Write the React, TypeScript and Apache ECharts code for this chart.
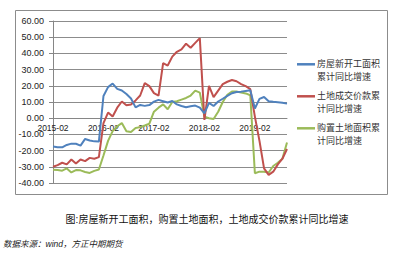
import React, { useEffect, useRef } from "react";
import * as echarts from "echarts";

const categories = [
  "2015-02", "2015-03", "2015-04", "2015-05", "2015-06", "2015-07", "2015-08", "2015-09", "2015-10", "2015-11", "2015-12",
  "2016-02", "2016-03", "2016-04", "2016-05", "2016-06", "2016-07", "2016-08", "2016-09", "2016-10", "2016-11", "2016-12",
  "2017-02", "2017-03", "2017-04", "2017-05", "2017-06", "2017-07", "2017-08", "2017-09", "2017-10", "2017-11", "2017-12",
  "2018-02", "2018-03", "2018-04", "2018-05", "2018-06", "2018-07", "2018-08", "2018-09", "2018-10", "2018-11", "2018-12",
  "2019-02", "2019-03", "2019-04", "2019-05", "2019-06", "2019-07", "2019-08", "2019-09",
];

// 房屋新开工面积累计同比增速
const newStartArea = [
  -17.5, -17.9, -18.0, -16.5, -15.7, -15.8, -16.9, -12.8, -13.8, -14.3, -14.4,
  13.7, 19.2, 21.4, 18.1, 17.1, 14.9, 12.2, 6.7, 8.2, 7.6, 8.1,
  10.2, 11.3, 10.5, 9.7, 10.6, 8.5, 7.5, 6.8, 7.4, 7.8, 6.5,
  3.0, 9.5, 7.5, 10.3, 12.0, 13.8, 15.4, 16.2, 16.4, 16.8, 17.2,
  6.0, 11.9, 13.1, 10.5, 10.1, 9.8, 9.5, 9.0,
];

// 土地成交价款累计同比增速
const landValue = [
  -30.0, -29.0, -27.5, -28.5, -25.5, -28.0, -25.5, -26.5, -24.5, -25.0, -24.0,
  -3.0, 3.5, 1.0, 6.5, 10.3, 8.0, 8.5, 11.0, 14.0, 21.6, 19.8,
  15.5, 14.0, 34.0, 32.5, 38.0, 41.0, 42.5, 46.0, 43.5, 46.5, 49.4,
  -1.0, 20.0, 13.0, 17.0, 21.0, 22.5, 23.6, 22.8, 21.0, 19.8, 18.0,
  1.0, -14.0, -31.0, -35.0, -33.0, -28.5, -25.0, -19.0,
];

// 购置土地面积累计同比增速
const landArea = [
  -31.8, -32.0, -32.4, -31.0, -33.5, -32.0, -32.2, -33.2, -33.8, -32.5, -31.7,
  -23.0, -14.0, -8.0, -5.0, -3.0, -8.0, -8.5, -6.0, -5.5, -4.5, -3.4,
  4.0, 6.5, 8.5, 5.5, 10.0, 10.5, 11.5, 12.5, 14.0, 17.0, 15.8,
  1.0, 0.0, -0.5, 4.0, 10.0, 14.5, 16.5, 16.5, 15.8, 15.3, 14.2,
  -34.0, -33.0, -33.0, -33.5, -29.5, -27.5, -25.0, -15.0,
];

const seriesNames = ["房屋新开工面积累计同比增速", "土地成交价款累计同比增速", "购置土地面积累计同比增速"];
const legendLines = [
  ["房屋新开工面积", "累计同比增速"],
  ["土地成交价款累", "计同比增速"],
  ["购置土地面积累", "计同比增速"],
];
const colors = ["#4F81BD", "#C0504D", "#9BBB59"];
const titleText = "图:房屋新开工面积，购置土地面积，土地成交价款累计同比增速";
const sourceText = "数据来源：wind，方正中期期货";

const FONT = '"Liberation Sans", "Noto Sans CJK SC", sans-serif';
const Y_MIN = -40;
const Y_MAX = 60;
const GRID_H = 162;

export default function App() {
  const ref = useRef<HTMLDivElement>(null);
  useEffect(() => {
    if (!ref.current) return;
    const chart = echarts.init(ref.current, null, { renderer: "svg" });
    const dataSets = [newStartArea, landValue, landArea];
    const legendGraphics: any[] = [];
    legendLines.forEach((lines, k) => {
      const cy = 64.3 + 32 * k;
      legendGraphics.push({
        type: "line",
        shape: { x1: 297, y1: cy, x2: 315, y2: cy },
        style: { stroke: colors[k], lineWidth: 2.5 },
      });
      legendGraphics.push({
        type: "text",
        x: 317,
        y: cy - 6.25,
        style: {
          text: lines.join("\n"),
          font: `9px ${FONT}`,
          lineHeight: 12.5,
          fill: "#333",
        },
      });
    });
    // move the category axis up to the zero line (Excel-style crossing)
    const zeroOffset = -GRID_H * (0 - Y_MIN) / (Y_MAX - Y_MIN);
    chart.setOption({
      animation: false,
      textStyle: { fontFamily: FONT },
      grid: { left: 53, top: 21, width: 234, height: GRID_H, containLabel: false },
      xAxis: {
        type: "category",
        data: categories,
        boundaryGap: false,
        position: "bottom",
        offset: zeroOffset,
        axisLine: { onZero: false, lineStyle: { color: "#868686", width: 1 } },
        axisTick: { show: false },
        axisLabel: { interval: 10, fontSize: 8.5, color: "#222", margin: 6, fontFamily: FONT },
        splitLine: { show: false },
      },
      yAxis: {
        type: "value",
        min: Y_MIN,
        max: Y_MAX,
        interval: 10,
        axisLine: { show: true, onZero: false, lineStyle: { color: "#868686", width: 1 } },
        axisTick: { show: true, length: 4, lineStyle: { color: "#868686" } },
        axisLabel: {
          fontSize: 9,
          color: "#222",
          margin: 9,
          fontFamily: FONT,
          formatter: (v: number) => v.toFixed(2),
        },
        splitLine: { show: true, lineStyle: { color: "#8c8c8c", width: 1 } },
      },
      series: dataSets.map((d, k) => ({
        name: seriesNames[k],
        type: "line",
        data: d,
        symbol: "none",
        lineStyle: { color: colors[k], width: 2 },
        itemStyle: { color: colors[k] },
        z: 3 + (k === 0 ? 2 : k === 1 ? 1 : 0),
      })),
      graphic: [
        {
          type: "rect",
          shape: { x: 15.5, y: 10.5, width: 372, height: 184 },
          style: { fill: "none", stroke: "#8c8c8c", lineWidth: 1 },
          silent: true,
        },
        ...legendGraphics,
        {
          type: "text",
          x: 207,
          y: 219,
          style: {
            text: titleText,
            font: `10px ${FONT}`,
            fill: "#111",
            textAlign: "center",
            textVerticalAlign: "middle",
          },
        },
        {
          type: "text",
          x: 3,
          y: 244,
          style: {
            text: sourceText,
            font: `italic 8.5px ${FONT}`,
            fill: "#222",
            textAlign: "left",
            textVerticalAlign: "middle",
          },
        },
      ],
    });
    return () => chart.dispose();
  }, []);
  return (
    <div
      ref={ref}
      style={{ position: "fixed", left: 0, top: 0, width: 403, height: 261, background: "#fff" }}
    />
  );
}
